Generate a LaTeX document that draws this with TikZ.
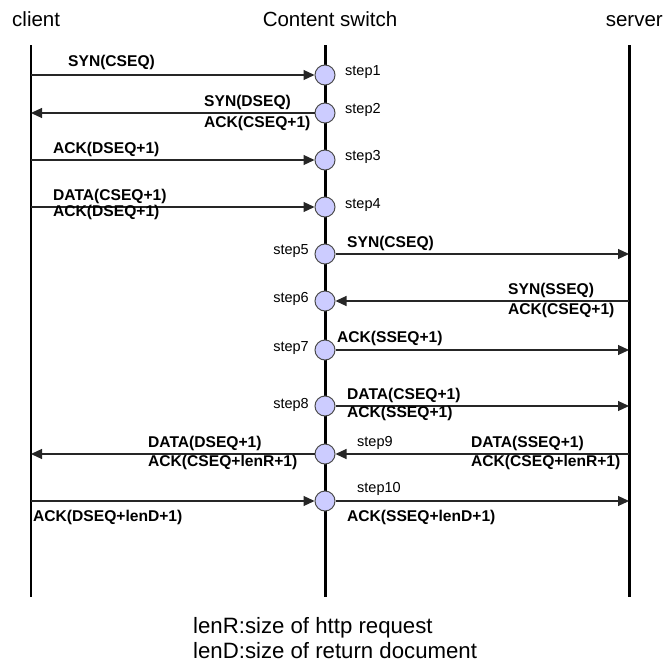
\documentclass[tikz,border=0pt]{standalone}
\usepackage{fontspec}
\setmainfont{Liberation Sans}
\usetikzlibrary{arrows.meta}
\definecolor{dotfill}{HTML}{CCCCFF}
\begin{document}
\begin{tikzpicture}[x=1pt,y=-1pt,
  stepdot/.style={circle,draw=black!70,line width=1pt,fill=dotfill,minimum size=20pt,inner sep=0pt},
  msg/.style={draw=black!85,line width=1.1pt,-{Triangle[length=11pt,width=10pt]}},
  lbl/.style={font=\bfseries\fontsize{15.6}{17}\selectfont,inner sep=0pt,anchor=west},
  steplbl/.style={font=\fontsize{14.5}{16}\selectfont,inner sep=0pt},
  head/.style={font=\fontsize{20.5}{23}\selectfont,inner sep=0pt},
  note/.style={font=\fontsize{22.2}{24}\selectfont,inner sep=0pt,anchor=west},
  life/.style={draw=black,line width=3pt},
  thinlife/.style={draw=black,line width=1.5pt}
]
\useasboundingbox (0,0) rectangle (665,664);
% headers
\node[head,anchor=base west] (hc) at (12,26) {client};
\node[head,anchor=base] (hs) at (330,26) {Content switch};
\node[head,anchor=base east] (hv) at (663,26) {server};
% lifelines
\coordinate (ct) at (31,45); \coordinate (cb) at (31,597);
\coordinate (st) at (325,45); \coordinate (sb) at (325,597);
\coordinate (vt) at (629,45); \coordinate (vb) at (629,597);
\draw[thinlife] (ct) -- (cb);
\draw[life] (st) -- (sb);
\draw[life] (vt) -- (vb);
% step dots
\foreach \i/\y in {1/75,2/113,3/160,4/207,5/254,6/301,7/350,8/406,9/454,10/501}{
  \node[stepdot] (s\i) at (325,\y) {};
  \coordinate (c\i) at (31,\y);
  \coordinate (v\i) at (629,\y);
}
% arrows
\draw[msg] (c1) -- (s1);
\draw[msg] (s2) -- (c2);
\draw[msg] (c3) -- (s3);
\draw[msg] (c4) -- (s4);
\draw[msg] (s5) -- (v5);
\draw[msg] (v6) -- (s6);
\draw[msg] (s7) -- (v7);
\draw[msg] (s8) -- (v8);
\draw[msg] (s9) -- (c9);
\draw[msg] (v9) -- (s9);
\draw[msg] (c10) -- (s10);
\draw[msg] (s10) -- (v10);
% step labels
\node[steplbl,anchor=west] (l1) at (345,72) {step1};
\node[steplbl,anchor=west] (l2) at (345,110) {step2};
\node[steplbl,anchor=west] (l3) at (345,157) {step3};
\node[steplbl,anchor=west] (l4) at (345,205) {step4};
\node[steplbl,anchor=east] (l5) at (309,251) {step5};
\node[steplbl,anchor=east] (l6) at (309,299) {step6};
\node[steplbl,anchor=east] (l7) at (309,348) {step7};
\node[steplbl,anchor=east] (l8) at (309,405) {step8};
\node[steplbl,anchor=west] (l9) at (357,443) {step9};
\node[steplbl,anchor=west] (l10) at (357,489) {step10};
% message labels
\node[lbl] (m1) at (68,62) {SYN(CSEQ)};
\node[lbl] (m2a) at (204,102) {SYN(DSEQ)};
\node[lbl] (m2b) at (204,123) {ACK(CSEQ+1)};
\node[lbl] (m3) at (53,149) {ACK(DSEQ+1)};
\node[lbl] (m4a) at (53,196) {DATA(CSEQ+1)};
\node[lbl] (m4b) at (53,212) {ACK(DSEQ+1)};
\node[lbl] (m5) at (347,243) {SYN(CSEQ)};
\node[lbl] (m6a) at (508,290) {SYN(SSEQ)};
\node[lbl] (m6b) at (508,310) {ACK(CSEQ+1)};
\node[lbl] (m7) at (337,338) {ACK(SSEQ+1)};
\node[lbl] (m8a) at (347,395) {DATA(CSEQ+1)};
\node[lbl] (m8b) at (347,413) {ACK(SSEQ+1)};
\node[lbl] (m9a) at (148,443) {DATA(DSEQ+1)};
\node[lbl] (m9b) at (148,462) {ACK(CSEQ+lenR+1)};
\node[lbl] (m9c) at (471,443) {DATA(SSEQ+1)};
\node[lbl] (m9d) at (471,462) {ACK(CSEQ+lenR+1)};
\node[lbl] (m10a) at (33,517) {ACK(DSEQ+lenD+1)};
\node[lbl] (m10b) at (347,517) {ACK(SSEQ+lenD+1)};
% notes
\node[note] (n1) at (193,628) {lenR:size of http request};
\node[note] (n2) at (193,651) {lenD:size of return document};
\end{tikzpicture}
\end{document}
